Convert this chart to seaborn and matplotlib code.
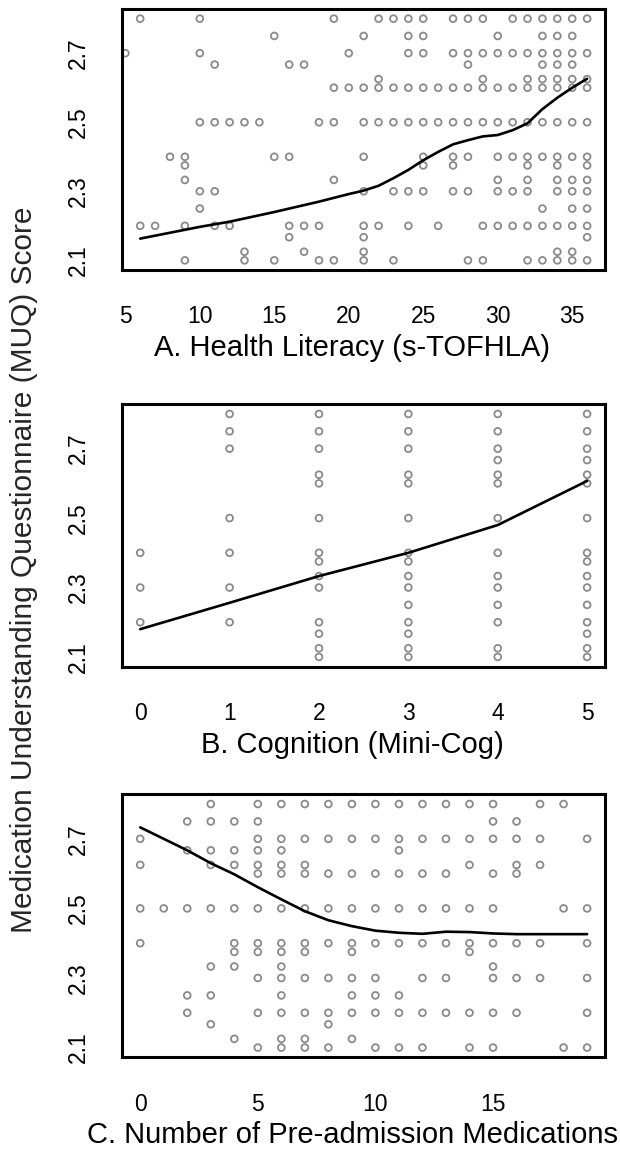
import pandas as pd
import matplotlib
matplotlib.use('Agg')
import matplotlib.pyplot as plt
import seaborn as sns

# MUQ score levels seen in panels A and C (rows of points)
score_levels = [2.8, 2.75, 2.7, 2.667, 2.625, 2.6, 2.5, 2.4, 2.375, 2.333,
                2.3, 2.25, 2.2, 2.167, 2.125, 2.1]

# Panel A: s-TOFHLA values present at each score level
literacy_by_level = [
    [6, 10, 19, 22, 23, 24, 25, 27, 28, 29, 31, 32, 33, 34, 35, 36],
    [15, 21, 24, 25, 30, 33, 34, 35],
    [5, 10, 20, 24, 25, 27, 28, 29, 30, 31, 32, 33, 34, 35, 36],
    [11, 16, 17, 28, 33, 34, 35],
    [22, 29, 32, 33, 34, 35, 36],
    [19, 20, 21, 22, 23, 24, 25, 26, 27, 28, 29, 30, 31, 32, 33, 34, 35, 36],
    [10, 11, 12, 13, 14, 18, 19, 21, 22, 23, 24, 25, 26, 27, 28, 29, 30, 31,
     32, 33, 34, 35, 36],
    [8, 9, 15, 16, 21, 25, 27, 28, 30, 31, 32, 33, 34, 35, 36],
    [9, 25, 27, 32, 34, 36],
    [9, 19, 30, 32, 34, 35, 36],
    [10, 11, 21, 23, 24, 25, 27, 28, 30, 31, 32, 34, 35, 36],
    [10, 33, 35, 36],
    [6, 7, 9, 11, 12, 16, 17, 18, 21, 22, 24, 26, 29, 30, 31, 32, 33, 34, 35, 36],
    [16, 21, 36],
    [13, 17, 21, 34, 35],
    [9, 13, 15, 18, 19, 21, 23, 28, 29, 32, 33, 34, 35, 36],
]

# Panel B: scores present at each Mini-Cog value
minicog_values = [0, 1, 2, 3, 4, 5]
scores_by_minicog = [
    [2.4, 2.3, 2.2],
    [2.8, 2.75, 2.7, 2.5, 2.4, 2.3, 2.2],
    [2.8, 2.75, 2.7, 2.625, 2.6, 2.5, 2.4, 2.375, 2.333, 2.3, 2.2, 2.167, 2.125, 2.1],
    [2.8, 2.75, 2.7, 2.625, 2.6, 2.5, 2.4, 2.375, 2.333, 2.3, 2.25, 2.2, 2.167,
     2.125, 2.1],
    [2.8, 2.75, 2.7, 2.667, 2.625, 2.6, 2.5, 2.4, 2.333, 2.3, 2.25, 2.2, 2.125, 2.1],
    [2.8, 2.75, 2.7, 2.667, 2.625, 2.6, 2.5, 2.4, 2.375, 2.333, 2.3, 2.25, 2.2,
     2.167, 2.125, 2.1],
]

# Panel C: number of medications present at each score level
meds_by_level = [
    [3, 5, 6, 7, 8, 9, 10, 11, 12, 13, 14, 15, 17, 18],
    [2, 3, 4, 5, 15, 16],
    [0, 5, 6, 7, 8, 9, 10, 11, 12, 13, 14, 15, 16, 17, 19],
    [2, 3, 4, 5, 6, 11],
    [0, 3, 4, 5, 6, 7, 14, 16, 17],
    [5, 6, 7, 8, 9, 10, 11, 12, 13, 15, 16],
    [0, 1, 2, 3, 4, 5, 6, 7, 8, 9, 10, 11, 12, 13, 14, 15, 18, 19],
    [0, 4, 5, 6, 7, 8, 9, 10, 11, 12, 13, 14, 15, 16, 17, 19],
    [4, 5, 6, 7, 9, 14],
    [3, 4, 6, 15],
    [5, 6, 7, 8, 9, 10, 12, 13, 15, 16, 17, 19],
    [2, 3, 6, 9, 10, 11],
    [2, 5, 6, 7, 8, 9, 10, 11, 12, 13, 14, 15, 16, 19],
    [3, 8],
    [4, 6, 7, 9],
    [5, 6, 7, 8, 10, 11, 12, 14, 15, 18, 19],
]

# Smoothed (lowess) curves
a_smooth_x = [6, 10, 12, 15, 18, 20, 21, 22, 23, 24, 25, 26, 27, 28, 29, 30,
              31, 32, 33, 34, 35, 36]
a_smooth_y = [2.163, 2.197, 2.212, 2.24, 2.27, 2.292, 2.302, 2.316, 2.338,
              2.362, 2.39, 2.414, 2.436, 2.448, 2.459, 2.463, 2.477, 2.497,
              2.538, 2.571, 2.6, 2.626]
b_smooth_x = [0, 1, 2, 3, 4, 5]
b_smooth_y = [2.18, 2.256, 2.333, 2.4, 2.48, 2.607]
c_smooth_x = list(range(20))
c_smooth_y = [2.733, 2.70, 2.667, 2.63, 2.598, 2.561, 2.526, 2.492, 2.466,
              2.449, 2.436, 2.43, 2.427, 2.433, 2.432, 2.428, 2.426, 2.426,
              2.426, 2.426]

y_ticks = [2.1, 2.2, 2.3, 2.4, 2.5, 2.6, 2.7, 2.8]
y_ticklabels = ['2.1', '', '2.3', '', '2.5', '', '2.7', '']


def by_level(levels, groups, name):
    rows = [(x, s) for s, xs in zip(levels, groups) for x in xs]
    return pd.DataFrame(rows, columns=[name, 'MUQ'])


df_a = by_level(score_levels, literacy_by_level, 'literacy')
df_c = by_level(score_levels, meds_by_level, 'meds')
df_b = pd.DataFrame([(m, s) for m, ss in zip(minicog_values, scores_by_minicog)
                     for s in ss], columns=['minicog', 'MUQ'])

sns.set_style('white')
plt.rcParams['font.family'] = ['Liberation Sans', 'DejaVu Sans']

fig = plt.figure(figsize=(6.2, 11.52), dpi=100)
left, width = 0.1973, 0.7785
ax_a = fig.add_axes([left, 0.7656, width, 0.2266])
ax_b = fig.add_axes([left, 0.4213, width, 0.2278])
ax_c = fig.add_axes([left, 0.0822, width, 0.2283])

panels = [
    (ax_a, df_a, 'literacy', a_smooth_x, a_smooth_y, (4.8, 37.2),
     [5, 10, 15, 20, 25, 30, 35], 'A. Health Literacy (s-TOFHLA)'),
    (ax_b, df_b, 'minicog', b_smooth_x, b_smooth_y, (-0.2, 5.2),
     [0, 1, 2, 3, 4, 5], 'B. Cognition (Mini-Cog)'),
    (ax_c, df_c, 'meds', c_smooth_x, c_smooth_y, (-0.76, 19.76),
     [0, 5, 10, 15], 'C. Number of Pre-admission Medications'),
]

for ax, df, col, sx, sy, xlim, xticks, xlabel in panels:
    sns.scatterplot(data=df, x=col, y='MUQ', ax=ax, s=24, marker='o',
                    facecolors='none', edgecolor='#8a8a8a', linewidth=1.3)
    sns.lineplot(x=sx, y=sy, ax=ax, color='black', linewidth=1.9)
    ax.set_xlim(*xlim)
    ax.set_ylim(2.072, 2.828)
    ax.set_xticks(xticks)
    ax.set_yticks(y_ticks)
    ax.set_yticklabels(y_ticklabels, rotation=90, va='center')
    ax.tick_params(axis='both', length=11, width=2.0, color='black',
                   labelsize=16.5, labelcolor='black')
    ax.tick_params(axis='x', pad=14.5)
    ax.tick_params(axis='y', pad=12.5)
    ax.set_xlabel(xlabel, fontsize=21, labelpad=4, color='black')
    ax.xaxis.label.set_x(0.476)
    ax.set_ylabel('')
    for spine in ax.spines.values():
        spine.set_linewidth(2.2)
        spine.set_color('black')

fig.text(0.038, 0.505, 'Medication Understanding Questionnaire (MUQ) Score',
         rotation=90, ha='center', va='center', fontsize=21.5)

fig.savefig('out.png', dpi=100)
